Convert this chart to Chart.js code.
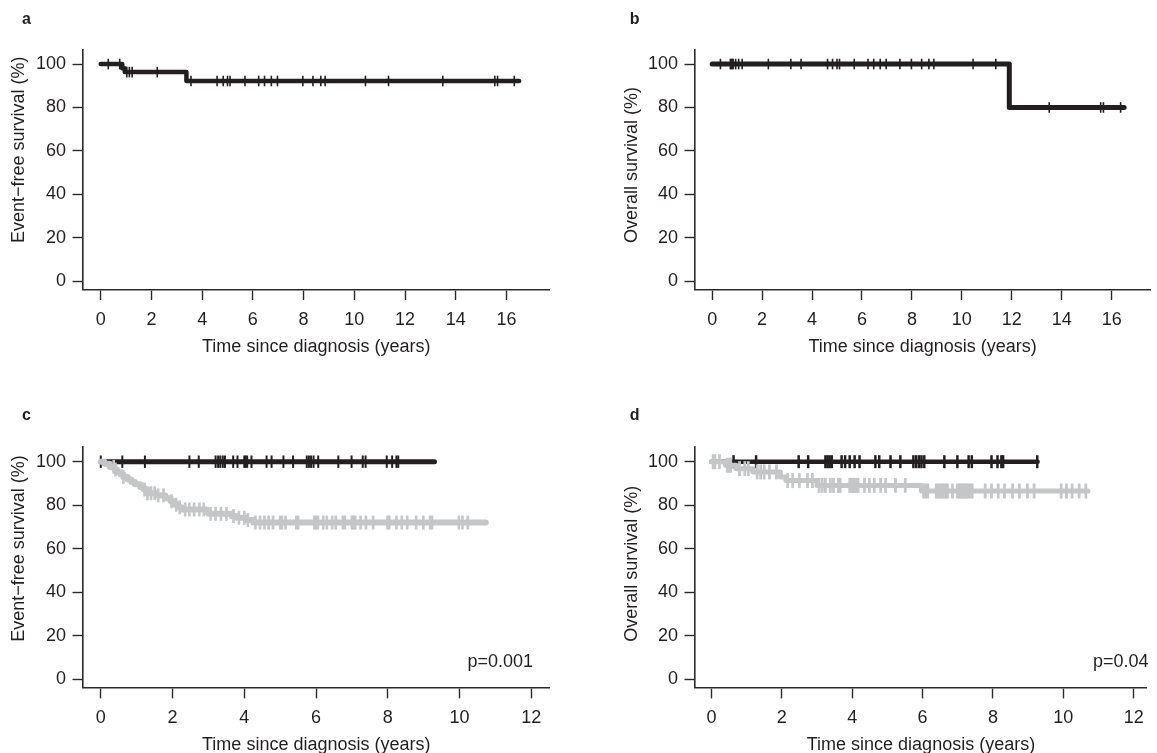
<!DOCTYPE html>
<html><head><meta charset="utf-8">
<script src="https://cdn.jsdelivr.net/npm/chart.js@4"></script>
<style>
html,body{margin:0;padding:0;background:#fff;width:1157px;height:753px;overflow:hidden;position:relative}
canvas{position:absolute;left:0;top:0}
</style></head><body>
<canvas id="ca" width="1157" height="800"></canvas>
<canvas id="cb" width="1157" height="800"></canvas>
<canvas id="cc" width="1157" height="800"></canvas>
<canvas id="cd" width="1157" height="800"></canvas>
<script>
// ---------- tick labels ----------
const xTicksAB = [0, 2, 4, 6, 8, 10, 12, 14, 16];
const xTicksCD = [0, 2, 4, 6, 8, 10, 12];
const yTicksAll = [0, 20, 40, 60, 80, 100];

// ---------- panel a : event-free survival (all) ----------
const aEventTimes = [0, 0.85, 0.95, 3.38];
const aEventSurv  = [100, 98.1, 96.3, 92.2];
const aEndTime = 16.5;
const aCensorTimes = [0.3, 0.75, 1.03, 1.13, 1.24, 2.23, 3.56, 4.59, 4.83, 5.0, 5.1, 5.69, 6.23, 6.46, 6.73, 6.97, 7.97, 8.37, 8.68, 8.85, 10.44, 11.35, 13.49, 15.54, 15.65, 16.31];

// ---------- panel b : overall survival (all) ----------
const bEventTimes = [0, 11.9];
const bEventSurv  = [100, 80];
const bEndTime = 16.5;
const bCensorTimes = [0.33, 0.73, 0.77, 0.8, 0.84, 0.94, 1.06, 1.2, 2.25, 3.15, 3.56, 4.62, 4.82, 5.0, 5.1, 5.69, 6.24, 6.47, 6.73, 6.97, 7.52, 7.98, 8.39, 8.68, 8.88, 10.45, 11.36, 13.5, 15.56, 15.67, 16.36];

// ---------- panel c : event-free survival by group ----------
const cBlackEventTimes = [0];
const cBlackEventSurv  = [100];
const cBlackEndTime = 9.3;
const cBlackCensorTimes = [0, 0.6, 1.23, 2.47, 2.73, 3.2, 3.27, 3.33, 3.4, 3.46, 3.69, 3.81, 4.0, 4.04, 4.08, 4.2, 4.62, 4.76, 5.09, 5.36, 5.74, 5.8, 5.86, 5.93, 6.06, 6.62, 6.99, 7.3, 7.38, 7.97, 8.12, 8.24, 8.29];

const cGrayEventTimes = [0, 0.1, 0.25, 0.38, 0.45, 0.55, 0.63, 0.75, 0.85, 0.95, 1.1, 1.2, 1.3, 1.55, 1.8, 1.95, 2.05, 2.15, 2.25, 2.95, 3.0, 3.65, 3.8, 4.05, 4.25];
const cGraySurv       = [100, 99.1, 97.6, 96.4, 95.3, 94.2, 93.0, 91.8, 90.7, 89.6, 88.4, 87.2, 85.5, 84.5, 83.2, 81.8, 80.2, 79.0, 78.0, 76.8, 76.0, 75.0, 74.2, 73.2, 72.0];
const cGrayEndTime = 10.73;
const cGrayCensorTimes = [0.36, 0.41, 0.63, 1.22, 1.3, 1.4, 1.5, 1.6, 1.75, 1.97, 2.1, 2.2, 2.35, 2.47, 2.6, 2.75, 2.87, 3.06, 3.2, 3.35, 3.5, 3.7, 3.85, 4.0, 4.1,
  4.31, 4.44, 4.56, 4.68, 4.8, 5.0, 5.05, 5.15, 5.45, 5.5, 5.95, 5.99, 6.05, 6.2, 6.3, 6.45, 6.55, 6.75, 6.8, 7.0, 7.04, 7.09, 7.24, 7.39, 7.59, 7.99, 8.04, 8.24, 8.39, 8.54, 8.79, 8.99, 9.18, 9.23, 9.98, 10.08, 10.23];
const cPValue = 'p=0.001';

// ---------- panel d : overall survival by group ----------
const dBlackEventTimes = [0];
const dBlackEventSurv  = [100];
const dBlackEndTime = 9.27;
const dBlackCensorTimes = [0.63, 1.27, 2.48, 2.75, 3.24, 3.3, 3.36, 3.42, 3.7, 3.8, 3.93, 4.07, 4.21, 4.66, 4.77, 5.09, 5.37, 5.74, 5.82, 5.9, 5.97, 6.05, 6.62, 6.99, 7.31, 7.4, 7.96, 8.13, 8.24, 8.29, 9.26];

const dGrayEventTimes = [0, 0.4, 0.7, 1.18, 1.96, 2.12, 3.0, 5.97];
const dGraySurv       = [100, 98.4, 96.8, 95.3, 93.0, 91.3, 89.1, 86.5];
const dGrayEndTime = 10.7;
const dGrayCensorTimes = [0.05, 0.1, 0.23, 0.45, 0.5, 0.55, 0.8, 0.95, 1.05, 1.3, 1.4, 1.5, 1.65, 1.85, 2.17, 2.31, 2.5, 2.73, 2.87, 3.06, 3.15, 3.24, 3.38, 3.47, 3.61, 3.66, 3.93, 3.98, 4.03, 4.08, 4.13, 4.17, 4.35, 4.49, 4.63, 4.81, 4.95, 5.23, 5.51,
  6.03, 6.09, 6.15, 6.39, 6.45, 6.51, 6.57, 6.62, 6.67, 6.71, 6.85, 6.99, 7.05, 7.1, 7.15, 7.2, 7.25, 7.3, 7.36, 7.41, 7.78, 7.96, 8.15, 8.33, 8.56, 8.75, 8.98, 9.17, 9.94, 10.09, 10.25, 10.45, 10.64];
const dPValue = 'p=0.04';

// ---------- helpers ----------
const BLACK = '#231f20';
const GRAY = '#c5c6c8';
const FONT = "'Liberation Sans', Arial, Helvetica, sans-serif";
Chart.defaults.font.family = FONT;
Chart.defaults.color = BLACK;

function stepPoints(times, surv, endTime) {
  const pts = times.map((t, i) => ({x: t, y: surv[i]}));
  pts.push({x: endTime, y: surv[surv.length - 1]});
  return pts;
}
function survAt(times, surv, t) {
  let s = surv[0];
  for (let i = 0; i < times.length; i++) if (times[i] <= t) s = surv[i];
  return s;
}
function censorPoints(times, surv, ctimes) {
  return ctimes.map(t => ({x: t, y: survAt(times, surv, t)}));
}
function curve(times, surv, endTime, color, width) {
  return {type: 'line', data: stepPoints(times, surv, endTime), stepped: 'before',
    borderColor: color, borderWidth: width, pointRadius: 0, fill: false,
    borderCapStyle: 'round', borderJoinStyle: 'round', clip: false};
}
function marks(times, surv, ctimes, color, r, w) {
  return {type: 'scatter', data: censorPoints(times, surv, ctimes), pointStyle: 'line',
    rotation: 90, radius: r, pointRadius: r, borderColor: color, backgroundColor: color,
    borderWidth: w, pointHoverRadius: r, clip: false};
}

const textPlugin = {
  id: 'panelText',
  afterDraw(chart) {
    const items = chart.options.plugins.panelText.items || [];
    const ctx = chart.ctx;
    items.forEach(it => {
      ctx.save();
      ctx.font = it.font;
      ctx.fillStyle = BLACK;
      ctx.textAlign = it.align || 'left';
      ctx.textBaseline = it.baseline || 'middle';
      ctx.translate(it.x, it.y);
      if (it.rotate) ctx.rotate(it.rotate);
      ctx.fillText(it.text, 0, 0);
      ctx.restore();
    });
  }
};

function makeChart(id, cfg) {
  const H = 800, W = 1157;
  const A = cfg.area;
  const axisColor = '#2b2b2b';
  new Chart(document.getElementById(id), {
    type: 'scatter',
    data: {datasets: cfg.datasets},
    plugins: [textPlugin],
    options: {
      responsive: false, animation: false, devicePixelRatio: 1,
      events: [],
      layout: {padding: {left: 0, top: A.top, right: W - A.right, bottom: H - A.titleBottom}},
      plugins: {legend: {display: false}, tooltip: {enabled: false}, panelText: {items: cfg.texts}},
      scales: {
        x: {
          type: 'linear', min: cfg.xMin, max: cfg.xMax,
          afterBuildTicks: s => { s.ticks = cfg.xTicks.map(v => ({value: v})); },
          afterFit: s => { s.height = A.titleBottom - A.bottom; s.paddingLeft = 0; s.paddingRight = 0; },
          grid: {display: true, drawOnChartArea: false, drawTicks: true, tickLength: 10.7, tickWidth: 1.4, tickColor: axisColor},
          border: {display: true, color: axisColor, width: 1.6},
          ticks: {font: {size: 18}, padding: 9, color: BLACK, autoSkip: false, maxRotation: 0},
          title: {display: true, text: 'Time since diagnosis (years)', font: {size: 18, lineHeight: 1.2}, padding: {top: 0, bottom: 0}, color: BLACK}
        },
        y: {
          type: 'linear', min: cfg.yMin, max: cfg.yMax,
          afterBuildTicks: s => { s.ticks = yTicksAll.map(v => ({value: v})); },
          afterFit: s => { s.width = A.left; s.paddingTop = 0; s.paddingBottom = 0; },
          grid: {display: true, drawOnChartArea: false, drawTicks: true, tickLength: 10.7, tickWidth: 1.4, tickColor: axisColor},
          border: {display: true, color: axisColor, width: 1.6},
          ticks: {font: {size: 18}, padding: 6.5, color: BLACK, autoSkip: false}
        }
      }
    }
  });
}

const labelFont = "bold 16px " + FONT;
const titleFont = "18px " + FONT;
const UP = -Math.PI / 2;

// panel a
makeChart('ca', {
  area: {left: 83.2, top: 49.3, right: 549.3, bottom: 289.3, titleBottom: 357.4},
  xMin: -0.69, xMax: 17.69, yMin: -3.8, yMax: 106.8, xTicks: xTicksAB,
  datasets: [
    marks(aEventTimes, aEventSurv, aCensorTimes, BLACK, 5.3, 1.6),
    curve(aEventTimes, aEventSurv, aEndTime, BLACK, 4.5)
  ],
  texts: [
    {text: 'a', x: 22, y: 20, font: labelFont},
    {text: 'Event\u2212free survival (%)', x: 19, y: 243, rotate: UP, font: titleFont}
  ]
});

// panel b
makeChart('cb', {
  area: {left: 695.2, top: 49.3, right: 1157, bottom: 289.3, titleBottom: 357.4},
  xMin: -0.68, xMax: 17.54, yMin: -3.8, yMax: 106.8, xTicks: xTicksAB,
  datasets: [
    marks(bEventTimes, bEventSurv, bCensorTimes, BLACK, 5.3, 1.6),
    curve(bEventTimes, bEventSurv, bEndTime, BLACK, 5)
  ],
  texts: [
    {text: 'b', x: 629.7, y: 20, font: labelFont},
    {text: 'Overall survival (%)', x: 632, y: 243, rotate: UP, font: titleFont}
  ]
});

// panel c
makeChart('cc', {
  area: {left: 83.2, top: 446.7, right: 549.3, bottom: 687.7, titleBottom: 755.8},
  xMin: -0.49, xMax: 12.5, yMin: -4.0, yMax: 106.9, xTicks: xTicksCD,
  datasets: [
    marks(cGrayEventTimes, cGraySurv, cGrayCensorTimes, GRAY, 7, 2.6),
    curve(cGrayEventTimes, cGraySurv, cGrayEndTime, GRAY, 6),
    marks(cBlackEventTimes, cBlackEventSurv, cBlackCensorTimes, BLACK, 6.2, 2),
    curve(cBlackEventTimes, cBlackEventSurv, cBlackEndTime, BLACK, 5)
  ],
  texts: [
    {text: 'c', x: 22, y: 416, font: labelFont},
    {text: 'Event\u2212free survival (%)', x: 19, y: 641.7, rotate: UP, font: titleFont},
    {text: cPValue, x: 533, y: 661.7, align: 'right', font: titleFont}
  ]
});

// panel d
makeChart('cd', {
  area: {left: 695.2, top: 446.7, right: 1157, bottom: 687.7, titleBottom: 755.8},
  xMin: -0.46, xMax: 12.37, yMin: -4.0, yMax: 106.9, xTicks: xTicksCD,
  datasets: [
    marks(dGrayEventTimes, dGraySurv, dGrayCensorTimes, GRAY, 7.5, 2.8),
    curve(dGrayEventTimes, dGraySurv, dGrayEndTime, GRAY, 5),
    marks(dBlackEventTimes, dBlackEventSurv, dBlackCensorTimes, BLACK, 6.5, 2.5),
    curve(dBlackEventTimes, dBlackEventSurv, dBlackEndTime, BLACK, 4.5)
  ],
  texts: [
    {text: 'd', x: 629.7, y: 416, font: labelFont},
    {text: 'Overall survival (%)', x: 632, y: 641.7, rotate: UP, font: titleFont},
    {text: dPValue, x: 1148.5, y: 661.7, align: 'right', font: titleFont}
  ]
});
</script>
</body></html>
